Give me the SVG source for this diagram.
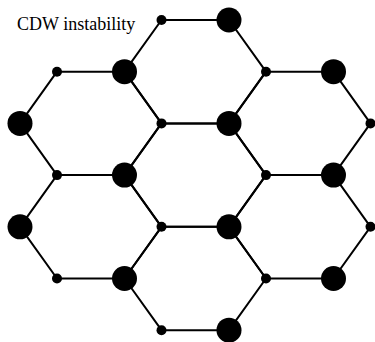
<svg xmlns="http://www.w3.org/2000/svg" width="375" height="342" viewBox="0 0 375 342">
  <style>
    .bond { stroke: #000; stroke-width: 2; fill: none; stroke-linejoin: round; }
    .big { fill: #000; }
    .small { fill: #000; }
    .label { font-family: "Liberation Serif", "Times New Roman", serif; font-size: 18px; fill: #000; }
  </style>
  <defs>
    <circle id="siteBig" r="12.5" class="big"/>
    <circle id="siteSmall" r="5" class="small"/>
  </defs>
  <rect width="375" height="342" fill="#fff"/>

  <text class="label" x="17" y="30">CDW instability</text>

  <!-- honeycomb bonds: seven flat-topped hexagons -->
  <g id="connectors" class="bond">
    <!-- top hexagon -->
    <polygon points="161.5,20 229,20 266,71.7 229,123.4 161.5,123.4 124.5,71.7"/>
    <!-- centre hexagon -->
    <polygon points="161.5,123.4 229,123.4 266,175.1 229,226.8 161.5,226.8 124.5,175.1"/>
    <!-- bottom hexagon -->
    <polygon points="161.5,226.8 229,226.8 266,278.5 229,330.2 161.5,330.2 124.5,278.5"/>
    <!-- upper-left hexagon -->
    <polygon points="57,71.7 124.5,71.7 161.5,123.4 124.5,175.1 57,175.1 20,123.4"/>
    <!-- lower-left hexagon -->
    <polygon points="57,175.1 124.5,175.1 161.5,226.8 124.5,278.5 57,278.5 20,226.8"/>
    <!-- upper-right hexagon -->
    <polygon points="266,71.7 333.5,71.7 370.5,123.4 333.5,175.1 266,175.1 229,123.4"/>
    <!-- lower-right hexagon -->
    <polygon points="266,175.1 333.5,175.1 370.5,226.8 333.5,278.5 266,278.5 229,226.8"/>
  </g>

  <!-- lattice sites: large (charge-rich) and small -->
  <g id="row0">
    <use href="#siteSmall" x="161.5" y="20"/>
    <use href="#siteBig" x="229" y="20"/>
  </g>
  <g id="row1">
    <use href="#siteSmall" x="57" y="71.7"/>
    <use href="#siteBig" x="124.5" y="71.7"/>
    <use href="#siteSmall" x="266" y="71.7"/>
    <use href="#siteBig" x="333.5" y="71.7"/>
  </g>
  <g id="row2">
    <use href="#siteBig" x="20" y="123.4"/>
    <use href="#siteSmall" x="161.5" y="123.4"/>
    <use href="#siteBig" x="229" y="123.4"/>
    <use href="#siteSmall" x="370.5" y="123.4"/>
  </g>
  <g id="row3">
    <use href="#siteSmall" x="57" y="175.1"/>
    <use href="#siteBig" x="124.5" y="175.1"/>
    <use href="#siteSmall" x="266" y="175.1"/>
    <use href="#siteBig" x="333.5" y="175.1"/>
  </g>
  <g id="row4">
    <use href="#siteBig" x="20" y="226.8"/>
    <use href="#siteSmall" x="161.5" y="226.8"/>
    <use href="#siteBig" x="229" y="226.8"/>
    <use href="#siteSmall" x="370.5" y="226.8"/>
  </g>
  <g id="row5">
    <use href="#siteSmall" x="57" y="278.5"/>
    <use href="#siteBig" x="124.5" y="278.5"/>
    <use href="#siteSmall" x="266" y="278.5"/>
    <use href="#siteBig" x="333.5" y="278.5"/>
  </g>
  <g id="row6">
    <use href="#siteSmall" x="161.5" y="330.2"/>
    <use href="#siteBig" x="229" y="330.2"/>
  </g>
</svg>
